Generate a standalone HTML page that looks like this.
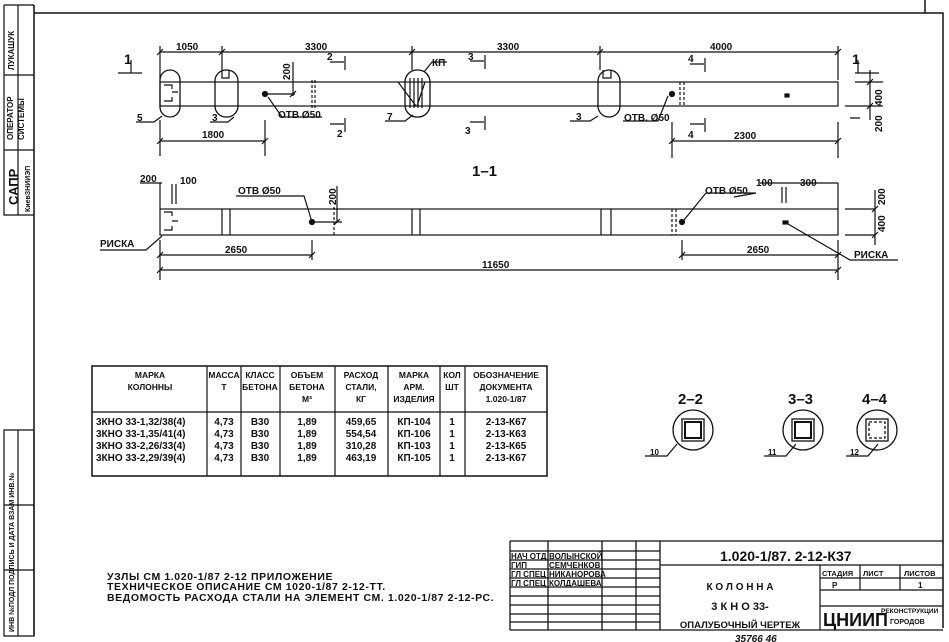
<!DOCTYPE html>
<html><head><meta charset="utf-8"><style>
html,body{margin:0;padding:0;background:#fff}
svg{display:block}
text{font-family:"Liberation Sans Narrow","Liberation Sans",sans-serif;font-weight:bold;fill:#111}
</style></head><body>
<svg width="949" height="642" viewBox="0 0 949 642" xmlns="http://www.w3.org/2000/svg" stroke="#111" fill="none" stroke-width="1.2">
<!-- frame -->
<path d="M34 13H943V628M34 5V636M925 0V13" stroke-width="1.5"/>
<path d="M4 5H34M4 5V215H34M4 75H34M4 150H34M18 5V215" />
<path d="M4 430H34V636H4ZM4 430V636M18 430V636M4 505H34M4 570H34"/>
<g font-size="8" stroke="none">
<text transform="translate(14,70) rotate(-90)">ЛУКАШУК</text>
<text transform="translate(13,140) rotate(-90)">ОПЕРАТОР</text>
<text transform="translate(24,140) rotate(-90)">СИСТЕМЫ</text>
<text transform="translate(18,205) rotate(-90)" font-size="13" font-weight="normal">САПР</text>
<text transform="translate(30,212) rotate(-90)" font-size="7">КиевЗНИИЭП</text>
<text transform="translate(14,632) rotate(-90)" font-size="7">ИНВ №ПОДЛ ПОДПИСЬ И ДАТА ВЗАМ ИНВ.№</text>
</g>

<!-- top beam -->
<rect x="160" y="82" width="678" height="24"/>
<g stroke-width="1.3">
<rect x="160" y="70" width="20" height="47" rx="10"/>
<rect x="215" y="70" width="23" height="47" rx="11"/>
<rect x="405" y="70" width="25" height="47" rx="12"/>
<rect x="598" y="70" width="22" height="47" rx="11"/>
</g>
<path d="M222 70v8h7v-8M603 70v8h8v-8M164 85h8v4M164 101h8v-4M172 92h6M398 82l18 24M425 82l-8 24M410 78v30M414 78v30M418 78v30M422 78v30"/>
<path d="M312 80v30M315 80v30M680 82v24M684 82v24" stroke-dasharray="3 2"/>
<circle cx="265" cy="94" r="2.5" fill="#111"/><circle cx="672" cy="94" r="2.5" fill="#111"/>
<rect x="785" y="94" width="4" height="3" fill="#111"/>
<!-- dims top -->
<path d="M160 52H838M160 46v34M222 46v24M412 46v24M600 46v24M838 46v34"/>
<path d="M157 55l6-6M219 55l6-6M409 55l6-6M597 55l6-6M835 55l6-6"/>
<path d="M160 141H265M160 120v36M265 120v36M157 144l6-6M262 144l6-6M672 141H838M672 122v36M838 122v36M669 144l6-6M835 144l6-6"/>
<path d="M265 94h30M293 62v34M290 97l6-6"/>
<path d="M855 82h28M845 106h38M870 70v50M867 85l6-6M867 109l6-6M850 118h10"/>
<!-- section marks -->
<path d="M330 62h14M345 56v14M330 124h14M345 118v14M470 61h14M485 55v14M470 122h14M485 116v14M690 64h14M705 58v14M690 124h14M705 118v14"/>
<path d="M118 73h24M131 60v13M855 73h24M858 60v13"/>
<!-- leaders -->
<path d="M136 122h18l8-6M210 122h18l6-5M385 121h20l8-6M570 121h20l8-5M268 97l14 20h40M668 96l-10 25h-35M424 72l8-10h15"/>
<g font-size="10" stroke="none">
<text x="176" y="50">1050</text><text x="305" y="50">3300</text><text x="497" y="50">3300</text><text x="710" y="50">4000</text>
<text x="202" y="138">1800</text><text x="734" y="139">2300</text>
<text transform="translate(290,80) rotate(-90)">200</text>
<text x="278" y="118">ОТВ Ø50</text><text x="624" y="121">ОТВ. Ø50</text>
<text x="432" y="66">КП</text>
<text x="137" y="121">5</text><text x="212" y="121">3</text><text x="387" y="120">7</text><text x="576" y="120">3</text>
<text x="327" y="60">2</text><text x="337" y="137">2</text><text x="468" y="60">3</text><text x="465" y="134">3</text>
<text x="688" y="62">4</text><text x="688" y="138">4</text>
<text x="124" y="64" font-size="14">1</text><text x="852" y="64" font-size="14">1</text>
<text transform="translate(882,106) rotate(-90)">400</text><text transform="translate(882,132) rotate(-90)">200</text>
<text x="472" y="176" font-size="15">1–1</text>
</g>

<!-- bottom beam -->
<rect x="160" y="209" width="678" height="26"/>
<path d="M222 209v26M230 209v26M412 209v26M420 209v26M601 209v26M611 209v26M164 212h8v4M164 230h8v-4M172 221h6"/>
<path d="M672 209v26M676 209v26M334 207v30" stroke-dasharray="3 2"/>
<circle cx="312" cy="222" r="2.5" fill="#111"/><circle cx="682" cy="222" r="2.5" fill="#111"/>
<rect x="783" y="221" width="5" height="3" fill="#111"/>
<path d="M140 183h22M160 183v26M172 184v20M176 184v20M312 222h30M337 186v36M334 225l6-6M236 196h68l8 26M760 183h78M782 187v16M786 187v16M838 183v26M706 193h50l-22 4M684 220l22-27"/>
<path d="M845 209h30M845 235h30M875 190v55M872 212l6-6M872 238l6-6"/>
<path d="M100 250h46l16-14M160 240v40M312 240v20M157 258l6-6M309 258l6-6M160 255H312M682 240v20M682 255H838M838 240v40M679 258l6-6M835 258l6-6M160 270H838M157 273l6-6M835 273l6-6M788 224l62 36h48"/>
<g font-size="10" stroke="none">
<text x="140" y="182">200</text><text x="180" y="184">100</text>
<text x="238" y="194">ОТВ Ø50</text><text x="705" y="194">ОТВ Ø50</text>
<text x="756" y="186">100</text><text x="800" y="186">300</text>
<text transform="translate(336,205) rotate(-90)">200</text>
<text transform="translate(885,205) rotate(-90)">200</text><text transform="translate(885,232) rotate(-90)">400</text>
<text x="100" y="247">РИСКА</text><text x="854" y="258">РИСКА</text>
<text x="225" y="253">2650</text><text x="747" y="253">2650</text><text x="482" y="268">11650</text>
</g>

<!-- table -->
<rect x="92" y="366" width="455" height="110" stroke-width="1.5"/>
<path d="M92 412H547M207 366v110M241 366v110M280 366v110M335 366v110M388 366v110M440 366v110M465 366v110"/>
<g font-size="8.5" stroke="none" text-anchor="middle">
<text x="150" y="378">МАРКА</text><text x="150" y="390">КОЛОННЫ</text>
<text x="224" y="378">МАССА</text><text x="224" y="390">Т</text>
<text x="260" y="378">КЛАСС</text><text x="260" y="390">БЕТОНА</text>
<text x="307" y="378">ОБЪЕМ</text><text x="307" y="390">БЕТОНА</text><text x="307" y="402">М³</text>
<text x="361" y="378">РАСХОД</text><text x="361" y="390">СТАЛИ,</text><text x="361" y="402">КГ</text>
<text x="414" y="378">МАРКА</text><text x="414" y="390">АРМ.</text><text x="414" y="402">ИЗДЕЛИЯ</text>
<text x="452" y="378">КОЛ</text><text x="452" y="390">ШТ</text>
<text x="506" y="378">ОБОЗНАЧЕНИЕ</text><text x="506" y="390">ДОКУМЕНТА</text><text x="506" y="402">1.020-1/87</text>
</g>
<g font-size="10" stroke="none" font-weight="normal">
<text x="96" y="425">3КНО 33-1,32/38(4)</text><text x="96" y="437">3КНО 33-1,35/41(4)</text><text x="96" y="449">3КНО 33-2,26/33(4)</text><text x="96" y="461">3КНО 33-2,29/39(4)</text>
<g text-anchor="middle">
<text x="224" y="425">4,73</text><text x="224" y="437">4,73</text><text x="224" y="449">4,73</text><text x="224" y="461">4,73</text>
<text x="260" y="425">В30</text><text x="260" y="437">В30</text><text x="260" y="449">В30</text><text x="260" y="461">В30</text>
<text x="307" y="425">1,89</text><text x="307" y="437">1,89</text><text x="307" y="449">1,89</text><text x="307" y="461">1,89</text>
<text x="361" y="425">459,65</text><text x="361" y="437">554,54</text><text x="361" y="449">310,28</text><text x="361" y="461">463,19</text>
<text x="414" y="425">КП-104</text><text x="414" y="437">КП-106</text><text x="414" y="449">КП-103</text><text x="414" y="461">КП-105</text>
<text x="452" y="425">1</text><text x="452" y="437">1</text><text x="452" y="449">1</text><text x="452" y="461">1</text>
<text x="506" y="425">2-13-К67</text><text x="506" y="437">2-13-К63</text><text x="506" y="449">2-13-К65</text><text x="506" y="461">2-13-К67</text>
</g></g>

<!-- sections -->
<g stroke-width="1.3">
<circle cx="693" cy="430" r="20"/><rect x="682" y="419" width="22" height="22"/><rect x="685" y="422" width="16" height="16" stroke-width="2"/>
<circle cx="803" cy="430" r="20"/><rect x="792" y="419" width="22" height="22"/><rect x="795" y="422" width="16" height="16" stroke-width="2"/>
<circle cx="877" cy="430" r="20"/><rect x="866" y="419" width="22" height="22"/><rect x="869" y="422" width="16" height="16" stroke-dasharray="3 2"/>
</g>
<path d="M645 456h22l10-12M764 456h22l10-12M846 456h22l10-12"/>
<g stroke="none">
<text x="678" y="404" font-size="15" font-weight="normal">2–2</text>
<text x="788" y="404" font-size="15" font-weight="normal">3–3</text>
<text x="862" y="404" font-size="15" font-weight="normal">4–4</text>
<text x="650" y="455" font-size="8">10</text><text x="768" y="455" font-size="8">11</text><text x="850" y="455" font-size="8">12</text>
</g>

<!-- notes -->
<g font-size="10.5" stroke="none" font-weight="normal" letter-spacing="0.6">
<text x="107" y="580">УЗЛЫ СМ 1.020-1/87 2-12 ПРИЛОЖЕНИЕ</text>
<text x="107" y="590">ТЕХНИЧЕСКОЕ ОПИСАНИЕ СМ 1020-1/87 2-12-ТТ.</text>
<text x="107" y="601">ВЕДОМОСТЬ РАСХОДА СТАЛИ НА ЭЛЕМЕНТ СМ. 1.020-1/87 2-12-РС.</text>
</g>

<!-- title block -->
<path d="M510 541H943M510 541V630M548 541V630M602 541V630M636 541V630M660 541V630M510 630H943" stroke-width="1.3"/>
<path d="M510 551H660M510 560H660M510 569H660M510 578H660M510 587H660M510 596H660M510 605H660M510 614H660M510 622H660M660 565H943M820 565V630M820 578H943M820 590H943M820 606H943M860 565V590M900 565V590"/>
<g stroke="none" font-size="8" font-weight="normal">
<text x="511" y="559">НАЧ ОТД</text><text x="549" y="559">ВОЛЫНСКОЙ</text>
<text x="511" y="568">ГИП</text><text x="549" y="568">СЕМЧЕНКОВ</text>
<text x="511" y="577">ГЛ СПЕЦ</text><text x="549" y="577">НИКАНОРОВА</text>
<text x="511" y="586">ГЛ СПЕЦ</text><text x="549" y="586">КОЛДАШЕВА</text>
<text x="720" y="561" font-size="14">1.020-1/87. 2-12-К37</text>
<text x="740" y="590" font-size="10" text-anchor="middle">К О Л О Н Н А</text>
<text x="740" y="610" font-size="11" text-anchor="middle">3 К Н О 33-</text>
<text x="740" y="628" font-size="9.5" text-anchor="middle">ОПАЛУБОЧНЫЙ ЧЕРТЕЖ</text>
<text x="822" y="576" font-size="7.5">СТАДИЯ</text><text x="863" y="576" font-size="7.5">ЛИСТ</text><text x="904" y="576" font-size="7.5">ЛИСТОВ</text>
<text x="832" y="588" font-size="8">Р</text><text x="918" y="588" font-size="8">1</text>
<text x="823" y="626" font-size="18" font-weight="normal">ЦНИИП</text>
<text x="881" y="613" font-size="6.5">РЕКОНСТРУКЦИИ</text><text x="890" y="624" font-size="7">ГОРОДОВ</text>
<text x="735" y="642" font-size="10" font-style="italic">35766  46</text>
</g>
</svg>
</body></html>
